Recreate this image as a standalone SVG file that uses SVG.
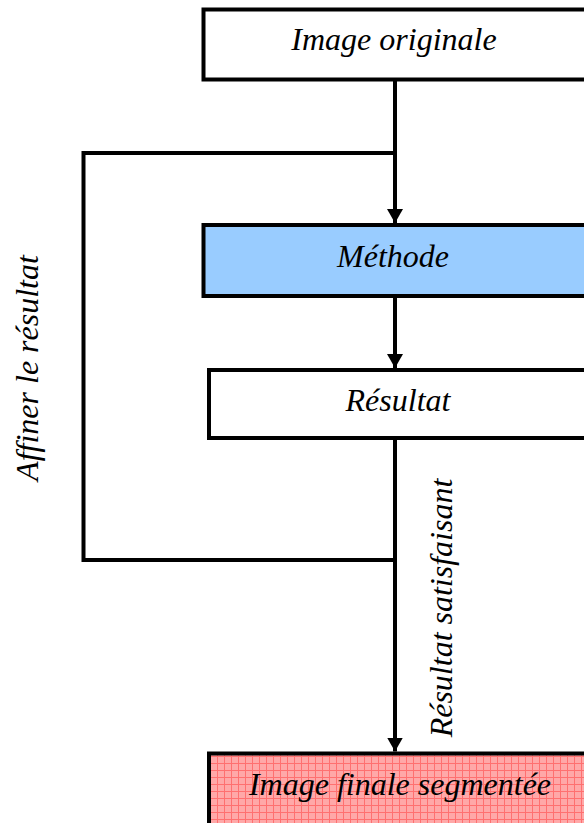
<svg xmlns="http://www.w3.org/2000/svg" width="584" height="823" viewBox="0 0 584 823">
<style>
.box{stroke:#000;stroke-width:4}
.lbl{font-family:"Liberation Serif","Times New Roman",serif;font-style:italic;font-size:32px;fill:#000}
.con{fill:none;stroke:#000;stroke-width:4}
</style>
<defs>
<marker id="ah" markerWidth="14" markerHeight="16" refX="14" refY="8" orient="auto" markerUnits="userSpaceOnUse">
<path d="M0,0 L14,8 L0,16 Z" fill="#000"/>
</marker>
<pattern id="grid" width="7" height="7" patternUnits="userSpaceOnUse">
<rect width="7" height="7" fill="#FFA8A8"/>
<path d="M0,0.5 H7 M0.5,0 V7" stroke="#FF7070" stroke-width="1"/>
</pattern>
</defs>
<rect width="584" height="823" fill="#fff"/>
<g id="connectors">
<path class="con" d="M395,80 V223" marker-end="url(#ah)"/>
<path class="con" d="M395,153 H83.5 V560 H395"/>
<path class="con" d="M395,296 V368" marker-end="url(#ah)"/>
<path class="con" d="M395,438 V751.5" marker-end="url(#ah)"/>
</g>
<g id="n1">
<rect class="box" x="203.5" y="9.5" width="390" height="70" fill="#fff"/>
<text class="lbl" x="394" y="50" text-anchor="middle">Image originale</text>
</g>
<g id="n2">
<rect class="box" x="203.5" y="225" width="390" height="71" fill="#99CCFF"/>
<text class="lbl" x="393" y="267" text-anchor="middle">Méthode</text>
</g>
<g id="n3">
<rect class="box" x="209" y="370" width="390" height="68" fill="#fff"/>
<text class="lbl" x="398" y="411" text-anchor="middle">Résultat</text>
</g>
<g id="n4">
<rect class="box" x="209" y="753.5" width="390" height="90" fill="url(#grid)"/>
<text class="lbl" x="400" y="795" text-anchor="middle">Image finale segmentée</text>
</g>
<g id="labels">
<text class="lbl" transform="translate(38,368) rotate(-90)" text-anchor="middle">Affiner le résultat</text>
<text class="lbl" transform="translate(452,608) rotate(-90)" text-anchor="middle">Résultat satisfaisant</text>
</g>
</svg>
